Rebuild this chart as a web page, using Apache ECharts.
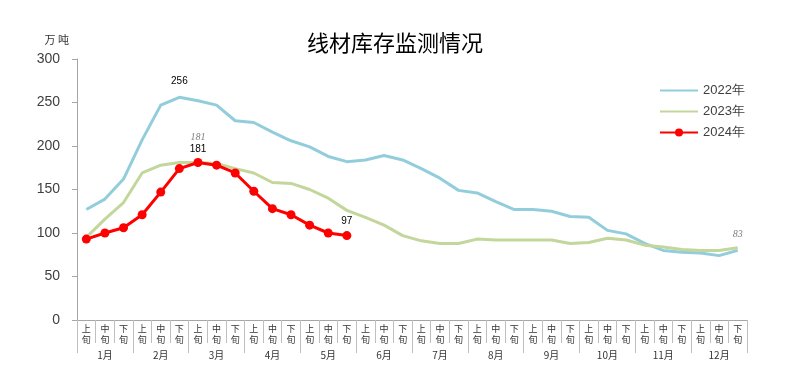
<!DOCTYPE html>
<html>
<head>
<meta charset="utf-8">
<script src="https://cdn.jsdelivr.net/npm/echarts@6/dist/echarts.min.js"></script>
<style>html,body{margin:0;padding:0;background:#fff}#c{width:800px;height:379px}</style>
</head>
<body>
<div id="c"></div>
<script>
const periods = ['上旬','中旬','下旬'];
const months = ['1月','2月','3月','4月','5月','6月','7月','8月','9月','10月','11月','12月'];
const categories = [];
months.forEach(m => periods.forEach(p => categories.push(m + p)));
const yTicks = [0, 50, 100, 150, 200, 250, 300];
const s2022 = [127,139,162,207,247,256,252,247,229,227,216,206,199,188,182,184,189,184,174,163,149,146,136,127,127,125,119,118,103,99,88,80,78,77,74,80];
const s2023 = [95,116,135,169,178,181,181,180,174,169,158,157,150,140,126,118,109,97,91,88,88,93,92,92,92,92,88,89,94,92,86,84,81,80,80,83];
const s2024 = [93,100,106,121,147,174,181,178,169,148,128,121,109,100,97];

const numFont = 'Liberation Sans, Arial, sans-serif';
const cjkFont = 'Noto Sans CJK SC, sans-serif';

const blackLbl = { show: true, color: '#000', fontSize: 10, fontFamily: numFont, position: 'top' };
const grayLbl = { show: true, color: '#7f7f7f', fontSize: 10, fontStyle: 'italic', fontFamily: 'Liberation Serif, serif', position: 'top' };

function mark(arr, idx, lbl, dist) {
  return { coord: [idx, arr[idx]], value: arr[idx], label: Object.assign({}, lbl, { distance: dist }) };
}
function markPointOf(items) {
  return { symbol: 'circle', symbolSize: 0, silent: true, data: items };
}

const chart = echarts.init(document.getElementById('c'), null, { renderer: 'canvas' });
chart.setOption({
  animation: false,
  backgroundColor: '#fff',
  title: {
    text: '线材库存监测情况',
    left: 302, top: 27,
    textStyle: { fontSize: 22, fontWeight: 'normal', color: '#000', fontFamily: cjkFont }
  },
  legend: {
    orient: 'vertical', left: 654, top: 79, itemWidth: 38, itemHeight: 10, itemGap: 8,
    textStyle: { fontSize: 13, color: '#404040', fontFamily: numFont },
    data: [
      { name: '2022年', itemStyle: { color: 'rgba(0,0,0,0)', borderWidth: 0 } },
      { name: '2023年', itemStyle: { color: 'rgba(0,0,0,0)', borderWidth: 0 } },
      { name: '2024年' }
    ]
  },
  grid: { left: 77, right: 53, top: 59, bottom: 59, containLabel: false },
  xAxis: [
    {
      type: 'category', data: categories, boundaryGap: true, position: 'bottom',
      axisLine: { show: true, lineStyle: { color: '#a6a6a6', width: 1 } },
      axisTick: { show: true, interval: 0, length: 23, lineStyle: { color: '#bfbfbf' } },
      axisLabel: {
        interval: 0, margin: 3, fontSize: 9, lineHeight: 11, color: '#333', fontFamily: cjkFont,
        formatter: v => v.slice(-2).split('').join('\n')
      }
    },
    {
      type: 'category', data: months, boundaryGap: true, position: 'bottom', offset: 0,
      axisLine: { show: false },
      axisTick: { show: true, interval: 0, length: 33, lineStyle: { color: '#bfbfbf' } },
      axisLabel: { interval: 0, margin: 30, fontSize: 10, color: '#333', fontFamily: cjkFont }
    }
  ],
  yAxis: {
    type: 'value', min: yTicks[0], max: yTicks[yTicks.length - 1], interval: 50,
    name: '万 吨', nameLocation: 'end', nameGap: 14,
    nameTextStyle: { fontSize: 11, color: '#333', fontFamily: cjkFont, align: 'right', padding: [0, 8, 0, 0] },
    axisLine: { show: true, lineStyle: { color: '#a6a6a6' } },
    axisTick: { show: true, length: 5, lineStyle: { color: '#a6a6a6' } },
    splitLine: { show: false },
    axisLabel: { fontSize: 14, color: '#404040', fontFamily: numFont, margin: 17 }
  },
  series: [
    {
      name: '2022年', type: 'line', xAxisIndex: 0, symbol: 'none',
      lineStyle: { color: '#92cddc', width: 3 }, itemStyle: { color: '#92cddc' },
      data: s2022,
      markPoint: markPointOf([mark(s2022, 5, blackLbl, 11)])
    },
    {
      name: '2023年', type: 'line', xAxisIndex: 0, symbol: 'none',
      lineStyle: { color: '#c3d69b', width: 3 }, itemStyle: { color: '#c3d69b' },
      data: s2023,
      markPoint: markPointOf([mark(s2023, 6, grayLbl, 20), mark(s2023, 35, grayLbl, 8)])
    },
    {
      name: '2024年', type: 'line', xAxisIndex: 0, symbol: 'circle', symbolSize: 9, z: 5,
      lineStyle: { color: '#ff0000', width: 3 }, itemStyle: { color: '#ff0000' },
      data: s2024,
      markPoint: markPointOf([mark(s2024, 6, blackLbl, 8), mark(s2024, 14, blackLbl, 9)])
    }
  ]
});
</script>
</body>
</html>
